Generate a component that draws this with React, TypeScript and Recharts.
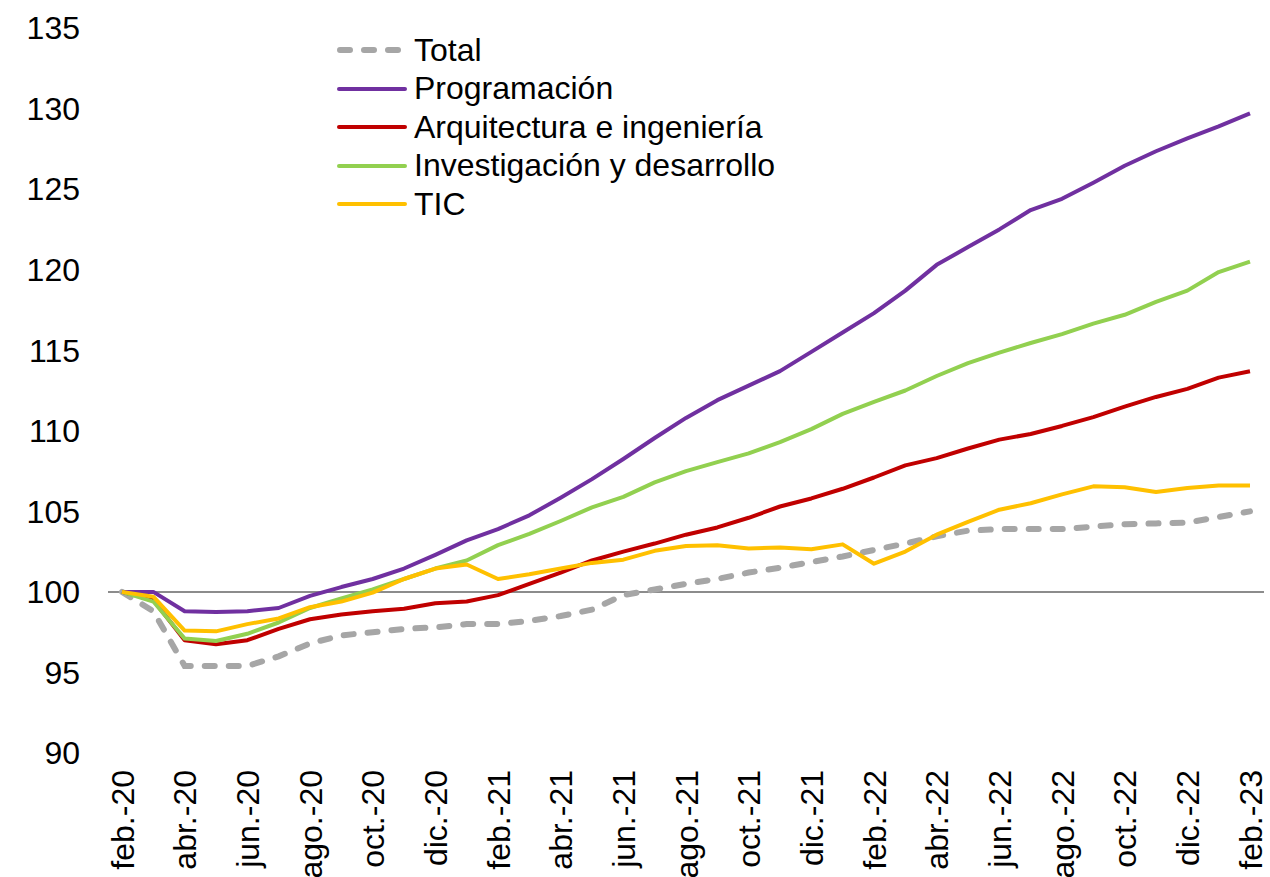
import React from "react";
import { LineChart, Line, XAxis, YAxis, CartesianGrid, Legend } from "recharts";

const months = ["feb.-20","mar.-20","abr.-20","may.-20","jun.-20","jul.-20","ago.-20","sep.-20","oct.-20","nov.-20","dic.-20","ene.-21","feb.-21","mar.-21","abr.-21","may.-21","jun.-21","jul.-21","ago.-21","sep.-21","oct.-21","nov.-21","dic.-21","ene.-22","feb.-22","mar.-22","abr.-22","may.-22","jun.-22","jul.-22","ago.-22","sep.-22","oct.-22","nov.-22","dic.-22","ene.-23","feb.-23"];

const total = [100, 98.8, 95.4, 95.4, 95.4, 96.0, 96.8, 97.3, 97.5, 97.7, 97.8, 98.0, 98.0, 98.2, 98.5, 98.9, 99.8, 100.15, 100.5, 100.8, 101.2, 101.5, 101.85, 102.2, 102.6, 103.0, 103.45, 103.8, 103.9, 103.9, 103.9, 104.05, 104.2, 104.25, 104.3, 104.65, 105.0];
const programacion = [100, 100, 98.8, 98.75, 98.8, 99.0, 99.75, 100.3, 100.8, 101.45, 102.3, 103.2, 103.9, 104.75, 105.85, 107.0, 108.25, 109.55, 110.8, 111.9, 112.8, 113.7, 114.9, 116.1, 117.3, 118.7, 120.3, 121.4, 122.5, 123.7, 124.4, 125.4, 126.45, 127.35, 128.15, 128.9, 129.7];
const arquitectura = [100, 99.5, 97.0, 96.75, 97.0, 97.7, 98.3, 98.6, 98.8, 98.95, 99.3, 99.4, 99.8, 100.5, 101.2, 101.95, 102.5, 103.0, 103.55, 104.0, 104.6, 105.3, 105.8, 106.4, 107.1, 107.85, 108.3, 108.9, 109.45, 109.8, 110.3, 110.85, 111.5, 112.1, 112.6, 113.3, 113.7];
const investigacion = [100, 99.4, 97.1, 96.95, 97.4, 98.1, 99.0, 99.6, 100.15, 100.8, 101.45, 101.95, 102.9, 103.6, 104.4, 105.25, 105.9, 106.8, 107.5, 108.05, 108.6, 109.3, 110.1, 111.05, 111.8, 112.5, 113.4, 114.2, 114.85, 115.45, 116.0, 116.65, 117.2, 118.0, 118.7, 119.85, 120.5];
const tic = [100, 99.7, 97.6, 97.55, 98.0, 98.35, 99.05, 99.4, 99.95, 100.8, 101.45, 101.7, 100.8, 101.1, 101.45, 101.8, 102.0, 102.55, 102.85, 102.9, 102.7, 102.75, 102.65, 102.95, 101.75, 102.5, 103.55, 104.35, 105.1, 105.5, 106.05, 106.55, 106.5, 106.2, 106.45, 106.6, 106.6];

const yTicks = [90, 95, 100, 105, 110, 115, 120, 125, 130, 135];

const seriesOrder = ["total", "prog", "arq", "inv", "tic"];
const seriesNames = {
  total: "Total",
  prog: "Programación",
  arq: "Arquitectura e ingeniería",
  inv: "Investigación y desarrollo",
  tic: "TIC",
};

const data = months.map((m, i) => ({
  m,
  total: total[i],
  prog: programacion[i],
  arq: arquitectura[i],
  inv: investigacion[i],
  tic: tic[i],
}));

const FONT = '"Liberation Sans", Arial, sans-serif';

const XTick = (props: any) => {
  const { x, y, payload } = props;
  return (
    <text
      x={x}
      y={y}
      transform={`rotate(-90, ${x}, ${y})`}
      textAnchor="end"
      dy="0.36em"
      fontSize={32}
      fontFamily={FONT}
      fill="#000"
    >
      {payload.value}
    </text>
  );
};

const renderLegend = (props: any) => {
  const payload = [...(props.payload || [])].sort(
    (a: any, b: any) => seriesOrder.indexOf(String(a.dataKey)) - seriesOrder.indexOf(String(b.dataKey))
  );
  return (
    <div style={{ fontFamily: FONT, fontSize: 32, color: "#000" }}>
      {payload.map((entry: any, i: number) => {
        const dashed = entry.dataKey === "total";
        return (
          <div key={i} style={{ display: "flex", alignItems: "center", height: 38.6, lineHeight: "38.6px", whiteSpace: "nowrap" }}>
            <svg width={70} height={10} style={{ marginRight: 7, display: "block" }}>
              <line
                x1={dashed ? 3 : 2}
                x2={dashed ? 67 : 68}
                y1={5}
                y2={5}
                stroke={entry.color}
                strokeWidth={dashed ? 6 : 4}
                strokeDasharray={dashed ? "10 14" : undefined}
                strokeLinecap="round"
              />
            </svg>
            <span>{entry.value}</span>
          </div>
        );
      })}
    </div>
  );
};

export default function App() {
  return (
    <div style={{ position: "absolute", left: 0, top: 0, width: 1270, height: 877, overflow: "hidden", background: "#fff" }}>
      <LineChart
        width={1270}
        height={877}
        data={data}
        margin={{ top: 28, right: 6, left: 0, bottom: 0 }}
      >
        <CartesianGrid vertical={false} horizontalValues={[100]} stroke="#8c8c8c" strokeWidth={2} />
        <XAxis
          dataKey="m"
          scale="point"
          padding={{ left: 14, right: 14 }}
          interval={1}
          height={124}
          axisLine={false}
          tickLine={false}
          tickSize={0}
          tickMargin={17}
          tick={<XTick />}
        />
        <YAxis
          domain={[90, 135]}
          ticks={yTicks}
          width={108}
          axisLine={false}
          tickLine={false}
          tickSize={0}
          tickMargin={28}
          tick={{ fontSize: 32, fill: "#000", fontFamily: FONT }}
        />
        <Legend
          layout="vertical"
          align="center"
          verticalAlign="middle"
          itemSorter={null as any}
          content={renderLegend}
          wrapperStyle={{ position: "absolute", left: 337, top: 30.7, width: 600, height: "auto" }}
        />
        <Line type="linear" dataKey="total" name={seriesNames.total} stroke="#a6a6a6" strokeWidth={6} strokeDasharray="10 14" strokeLinecap="round" dot={false} isAnimationActive={false} />
        <Line type="linear" dataKey="prog" name={seriesNames.prog} stroke="#7030a0" strokeWidth={4} strokeLinejoin="round" dot={false} isAnimationActive={false} />
        <Line type="linear" dataKey="arq" name={seriesNames.arq} stroke="#c00000" strokeWidth={4} strokeLinejoin="round" dot={false} isAnimationActive={false} />
        <Line type="linear" dataKey="inv" name={seriesNames.inv} stroke="#92d050" strokeWidth={4} strokeLinejoin="round" dot={false} isAnimationActive={false} />
        <Line type="linear" dataKey="tic" name={seriesNames.tic} stroke="#ffc000" strokeWidth={4} strokeLinejoin="round" dot={false} isAnimationActive={false} />
      </LineChart>
    </div>
  );
}
